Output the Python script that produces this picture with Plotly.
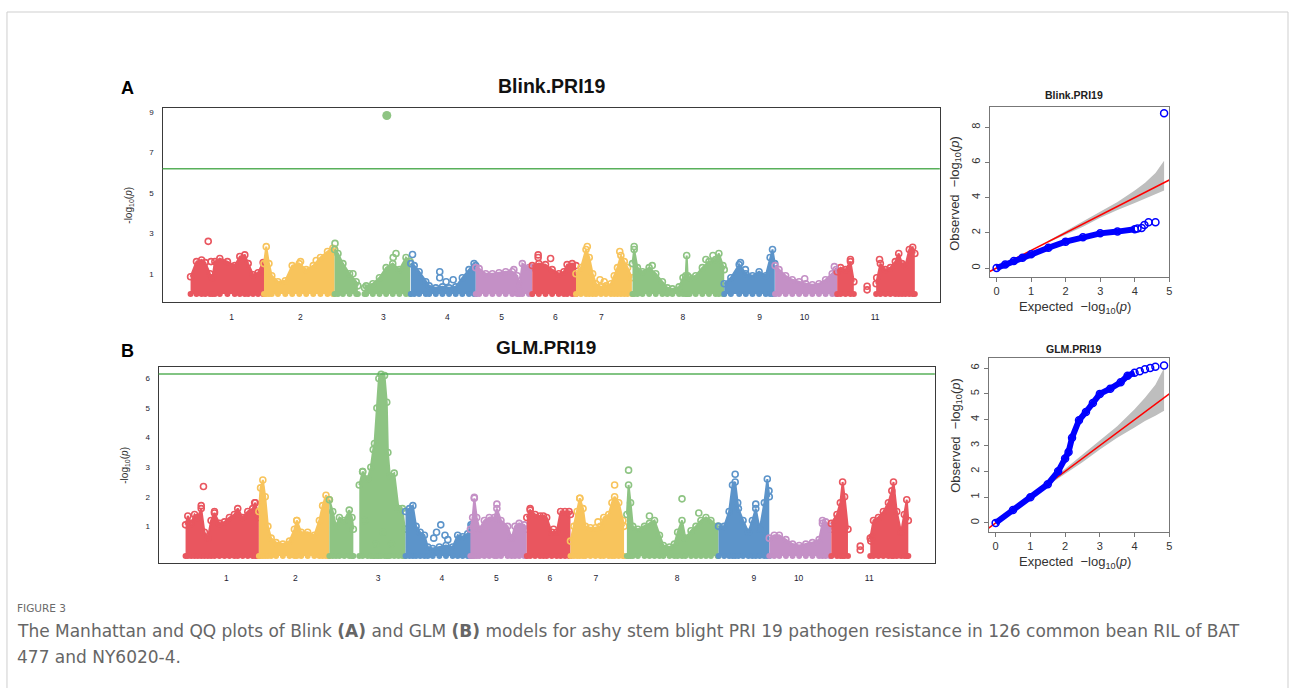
import numpy as np
import plotly.graph_objects as go

W, H = 1292, 688

# ---------------------------------------------------------------- data
CHR_LABELS = ["1", "2", "3", "4", "5", "6", "7", "8", "9", "10", "11"]
CHR_LEN_MB = [52, 50, 54, 46, 40, 31, 40, 65, 36, 44, 55]
# where each chromosome label sits, Mb from the chromosome start
CHR_TICK_MB = [29, 25.8, 34.6, 25.8, 18.4, 16.3, 18, 35.7, 25.1, 20.8, 26.9]
CHR_COLORS = ["#E9565F", "#F8C45C", "#8EC483", "#5C94CA", "#C490C6"]

BONFERRONI_BLINK = 6.19
BONFERRONI_GLM = 6.15

# Upper edge of the SNP cloud per chromosome (position in Mb, -log10 p); None = no markers
BLINK_ENV_MB = [
    [0, 4.2, 7.8, 10.4, 13.7, 15.5, 17.2, 20.7, 26.1, 31.3, 34.9, 38.4, 40.8, 44.3, 47.8, 51.4, 52],
    [0, 1.6, 3.5, 5.5, 9.9, 15.1, 20.0, 25.0, 29.9, 34.9, 40.0, 45.0, 48.8, 50],
    [0, 2.4, 5.9, 10.6, 15.3, 16.5, 18.5, 21.2, 22.4, 27.1, 31.8, 36.5, 41.2, 45.9, 50.6, 53.5],
    [0, 2.4, 5.9, 10.6, 13.0, 17.7, 22.4, 27.1, 31.8, 36.5, 41.2, 44.8, 46],
    [0, 2.4, 7.1, 11.8, 16.5, 21.2, 25.9, 29.4, 31.1, 33.0, 37.7, 40],
    [0, 4.7, 9.4, 14.1, 18.8, 22.4, 24.7, 28.3, 31],
    [0, 3.5, 7.1, 9.4, 11.8, 14.1, 17.7, 21.2, 24.7, 27.1, 29.4, 31.8, 34.2, 36.5, 39.6],
    [0, 1.2, 3.5, 7.1, 11.8, 16.5, 21.2, 24.7, 28.3, 33.0, 35.8, 37.7, 38.4, 39.1, 40.5, 44.8, 49.5, 54.2, 58.9, 61.2, 64.1, 65],
    [0, 4.7, 10.6, 15.3, 20.0, 24.7, 29.4, 32.5, 34.2, 35.8],
    [0, 2.8, 7.5, 12.2, 17.0, 21.7, 26.4, 31.1, 35.8, 40.5, 43.3, 44],
    [0, 2.4, 5.9, 9.4, 11.8, 13.0, 27.6, 30.6, 34.2, 37.7, 41.2, 43.6, 45.9, 48.3, 51.1, 53.5, 55],
]
BLINK_ENV_LOGP = [
    [0.85, 1.6, 1.68, 1.55, 1.0, 0.8, 1.6, 1.75, 1.6, 1.4, 1.85, 1.93, 1.5, 0.95, 1.05, 1.55, 1.5],
    [1.5, 2.34, 1.5, 0.9, 0.6, 0.65, 1.4, 1.5, 1.2, 1.4, 1.8, 2.1, 2.26, 2.2],
    [2.2, 2.0, 1.5, 1.0, 0.6, 0.4, None, 0.3, 0.4, 0.5, 0.8, 1.3, 1.5, 1.2, 1.8, 1.6],
    [1.5, 1.4, 1.1, 0.6, 0.4, 0.3, 0.35, 0.3, 0.35, 0.8, 1.2, 1.5, 1.4],
    [1.3, 1.25, 1.0, 1.0, 1.05, 1.1, 1.1, 0.9, 0.4, 1.5, 1.3, 1.3],
    [1.4, 1.5, 1.45, 1.2, 1.0, 1.1, 1.45, 1.5, 1.4],
    [1.0, 1.3, 2.2, 1.8, 1.0, 0.5, 0.35, 0.4, 0.5, 0.9, 1.3, 1.9, 1.6, 1.3, 0.8],
    [1.5, 2.2, 1.3, 1.1, 1.3, 1.0, 0.6, 0.3, 0.25, 0.35, 0.8, 0.9, 1.9, 0.9, 0.8, 0.9, 1.3, 1.6, 1.7, 2.0, 1.4, 1.2],
    [0.5, 0.8, 1.45, 1.0, 0.9, 1.1, 0.9, 1.8, 2.2, 1.5],
    [1.4, 1.2, 0.9, 0.7, 0.6, 0.5, 0.45, 0.5, 0.7, 1.0, 1.2, 1.1],
    [1.1, 1.3, 1.2, 1.6, 0.6, None, 0.5, 1.5, 1.2, 1.3, 1.6, 2.0, 1.5, 1.4, 2.2, 2.31, 2.0],
]
# Isolated SNPs standing out from the cloud
BLINK_HIT_CHR = [1, 1, 2, 2, 3, 3, 3, 3, 4, 4, 4, 4, 4, 5, 6, 6, 6, 7, 7, 7, 7, 8, 8, 8, 8, 9, 9, 10, 10, 11, 11, 11, 11, 11]
BLINK_HIT_MB = [12.5, 14.5, 25.9, 37.0, 0.3, 13.0, 41.5, 43.5, 1.2, 20.5, 20.5, 25.0, 30.0, 27.0, 4.2, 4.2, 13.0,
                8.0, 17.0, 20.0, 31.0, 1.2, 14.0, 52.0, 57.0, 11.5, 15.0, 21.0, 42.0, 9.4, 21.2, 21.2, 30.0, 28.0]
BLINK_HIT_LOGP = [2.6, 1.6, 1.6, 1.65, 2.5, 1.0, 1.8, 2.0, 1.95, 1.1, 0.8, 0.6, 0.7, 1.2, 1.93, 1.8, 1.75,
                  2.35, 0.7, 0.6, 2.1, 2.35, 1.4, 1.7, 1.9, 1.55, 1.2, 0.75, 1.35, 1.7, 0.2, 0.38, 1.7, 0.8]
# Significant marker
BLINK_LEAD_CHR = 3
BLINK_LEAD_MB = 37.0
BLINK_LEAD_LOGP = 8.83

GLM_ENV_MB = [
    [0, 1.6, 4.0, 6.4, 8.7, 11.1, 13.4, 15.8, 18.1, 20.5, 24.0, 27.6, 31.1, 34.6, 37.0, 40.5, 44.1, 47.6, 49.5, 51.4, 52],
    [0, 1.2, 2.8, 4.5, 6.4, 8.7, 12.2, 17.0, 21.7, 25.2, 26.9, 30.0, 34.6, 39.3, 42.9, 45.2, 47.6, 49.5, 50],
    [0, 2.4, 4.7, 7.1, 10.6, 14.1, 16.0, 17.0, 19.0, 21.2, 23.6, 27.1, 29.4, 31.1, 32.0, 33.7, 35.1, 36.7, 39.1, 40.7,
     41.5, 42.9, 46.0, 49.0, 51.8, 53.5, 54],
    [0, 2.8, 5.2, 7.5, 10.4, 13.4, 15.8, 19.3, 24.0, 28.7, 33.4, 37.0, 40.5, 44.1, 46.4, 47],
    [0, 1.6, 2.8, 4.5, 6.4, 9.9, 13.4, 17.0, 18.8, 21.7, 26.4, 29.2, 31.6, 34.6, 38.2, 40],
    [0, 2.4, 5.9, 9.4, 11.8, 14.1, 17.7, 21.2, 24.0, 27.1, 30.0, 31],
    [0, 2.4, 4.7, 6.6, 8.9, 10.6, 14.1, 17.7, 21.2, 23.6, 27.1, 29.4, 31.3, 34.2, 37.2, 38],
    [0, 1.2, 2.6, 4.2, 7.8, 12.5, 16.0, 19.6, 23.1, 25.9, 30.2, 33.7, 36.0, 39.1, 41.5, 45.5, 49.0, 52.5, 56.1, 59.6, 64.3, 65],
    [0, 4.0, 7.5, 9.9, 11.8, 14.1, 17.4, 21.2, 24.0, 26.4, 29.2, 32.5, 34.6, 35.8, 36],
    [0, 3.5, 7.1, 11.8, 16.5, 21.2, 25.9, 30.6, 35.3, 37.7, 40.0, 42.9, 44],
    [0, 4.0, 6.4, 8.0, 9.4, 11.8, 13.0, 27.6, 29.9, 33.4, 36.9, 40.5, 42.9, 44.1, 46.4, 49.5, 51.8, 53.5, 54.6],
]
GLM_ENV_LOGP = [
    [1.05, 1.35, 1.1, 1.4, 1.3, 1.6, 0.8, 0.6, 1.2, 1.45, 1.1, 1.15, 1.3, 1.4, 1.6, 1.3, 1.5, 1.6, 1.8, 1.4, 1.3],
    [1.5, 2.3, 2.57, 2.0, 1.0, 0.6, 0.45, 0.4, 0.5, 0.9, 1.2, 0.8, 0.8, 0.7, 1.2, 1.7, 2.05, 1.9, 1.9],
    [1.9, 1.5, 1.0, 1.3, 1.2, 1.55, 1.3, 0.9, None, 2.4, 2.85, 2.6, 3.0, 3.6, 3.8, 5.0, 6.0, 6.14, 6.1, 5.2,
     3.5, 2.7, 2.8, 1.6, 1.6, 0.9, 0.9],
    [1.5, 1.6, 1.7, 1.0, 0.8, 0.7, 0.3, 0.25, 0.3, 0.35, 0.3, 0.7, 0.65, 0.75, 1.05, 1.0],
    [0.9, 1.3, 1.95, 1.3, 0.9, 1.2, 1.3, 1.3, 1.6, 1.2, 1.0, 0.6, 1.0, 1.1, 1.05, 0.9],
    [1.3, 1.55, 1.4, 1.35, 1.35, 1.3, 0.8, 0.8, 1.5, 1.5, 1.5, 1.4],
    [0.5, 1.0, 1.5, 1.95, 1.6, 1.0, 0.95, 0.95, 1.0, 1.3, 1.4, 1.8, 2.0, 1.8, 1.2, 1.0],
    [1.4, 2.4, 1.8, 1.0, 0.9, 1.0, 1.1, 1.2, 0.7, 0.35, 0.3, 0.4, 0.8, 1.2, 0.6, 0.85, 1.0, 1.2, 1.3, 1.2, 1.0, 1.0],
    [1.0, 1.0, 1.5, 2.4, 2.5, 1.6, 1.2, 0.8, 1.2, 1.6, 0.9, 1.8, 2.6, 2.2, 2.0],
    [0.6, 0.7, 0.7, 0.55, 0.4, 0.35, 0.4, 0.45, 0.55, 1.1, 1.15, 1.0, 0.9],
    [1.1, 1.4, 1.8, 2.5, 2.0, 0.9, None, 0.6, 1.2, 1.3, 1.5, 1.8, 2.2, 2.5, 1.5, 0.8, 1.4, 1.9, 1.2],
]
GLM_HIT_CHR = [1, 1, 1, 1, 2, 3, 3, 3, 3, 3, 4, 4, 4, 4, 4, 5, 5, 6, 6, 7, 7, 7, 8, 8, 8, 8, 9, 9, 9, 10, 11, 11, 11, 11]
GLM_HIT_MB = [12.7, 11.1, 20.5, 49.0, 26.9, 23.6, 25.0, 33.0, 44.0, 38.0, 25.0, 22.0, 20.0, 30.0, 28.0, 2.8, 18.8,
              2.4, 19.0, 6.6, 31.3, 19.5, 1.2, 16.0, 39.1, 51.0, 11.8, 26.4, 13.6, 37.7, 20.5, 20.5, 28.0, 29.0]
GLM_HIT_LOGP = [2.35, 1.7, 1.5, 1.8, 1.2, 2.85, 1.2, 0.4, 0.4, 0.8, 1.05, 0.8, 0.6, 0.55, 0.7, 1.98, 1.75,
                1.6, 0.9, 1.95, 2.4, 1.15, 2.9, 1.35, 1.93, 1.45, 2.76, 1.75, 1.8, 1.2, 0.2, 0.33, 0.5, 0.65]

# QQ plots: expected vs observed -log10(p)
QQ_BLINK_EXP = [0, 0.25, 0.5, 0.75, 1.0, 1.5, 2.0, 2.5, 3.0, 3.5, 4.0]
QQ_BLINK_OBS = [0, 0.2, 0.4, 0.58, 0.78, 1.15, 1.5, 1.75, 1.97, 2.07, 2.2]
QQ_BLINK_TAIL_EXP = [4.08, 4.2, 4.28, 4.4, 4.6, 4.85]
QQ_BLINK_TAIL_OBS = [2.25, 2.28, 2.45, 2.6, 2.6, 8.8]

QQ_GLM_EXP = [0, 0.5, 1.0, 1.5, 1.8, 2.0, 2.1, 2.2, 2.4, 2.6, 2.8, 3.0, 3.3, 3.6, 3.8, 4.0]
QQ_GLM_OBS = [0, 0.5, 1.0, 1.5, 2.0, 2.5, 2.75, 3.3, 3.98, 4.3, 4.65, 5.0, 5.2, 5.45, 5.7, 5.82]
QQ_GLM_TAIL_EXP = [4.15, 4.3, 4.45, 4.6, 4.85]
QQ_GLM_TAIL_OBS = [5.88, 5.95, 6.0, 6.05, 6.1]

# 95% confidence band around the expected line
QQ_BAND_EXP = [1.5, 2.0, 2.5, 3.0, 3.5, 4.0, 4.3, 4.6, 4.85]
QQ_BLINK_BAND_HI = [1.55, 2.1, 2.65, 3.2, 3.75, 4.4, 4.85, 5.4, 6.1]
QQ_BLINK_BAND_LO = [1.45, 1.9, 2.35, 2.85, 3.3, 3.7, 3.95, 4.2, 4.4]
QQ_GLM_BAND_HI = [1.55, 2.1, 2.65, 3.2, 3.75, 4.4, 4.85, 5.35, 6.0]
QQ_GLM_BAND_LO = [1.45, 1.9, 2.35, 2.85, 3.3, 3.7, 3.95, 4.15, 4.35]
QQ_RANGE = [-0.2, 5.0]

# ---------------------------------------------------------------- helpers
FONT = "Liberation Sans, Arial, sans-serif"
offsets = np.concatenate([[0], np.cumsum(CHR_LEN_MB)[:-1]])
tick_pos = offsets + np.array(CHR_TICK_MB)
genome_len = float(sum(CHR_LEN_MB))


def px(x):
    return x / W


def py(y):
    return 1 - y / H


fig = go.Figure()


def add_manhattan(env_mb, env_logp, hit_chr, hit_mb, hit_logp, xa, ya):
    for i, (mbs, lps) in enumerate(zip(env_mb, env_logp)):
        color = CHR_COLORS[i % len(CHR_COLORS)]
        segs, cur = [], ([], [])
        for m, v in zip(list(mbs) + [None], list(lps) + [None]):
            if v is None:
                if cur[0]:
                    segs.append(cur)
                cur = ([], [])
            else:
                cur[0].append(offsets[i] + m)
                cur[1].append(v)
        for sx, sy in segs:
            fig.add_trace(go.Scatter(
                x=sx, y=sy, mode="lines+markers", xaxis=xa, yaxis=ya,
                fill="tozeroy", fillcolor=color,
                line=dict(color=color, width=2),
                marker=dict(symbol="circle-open", size=6, color=color, line=dict(width=1.6)),
                hoverinfo="skip"))
        # baseline of the cloud
        fig.add_trace(go.Scatter(
            x=[offsets[i] + m for m, v in zip(mbs, lps) if v is not None],
            y=[0] * sum(v is not None for v in lps), mode="markers", xaxis=xa, yaxis=ya,
            marker=dict(symbol="circle", size=6, color=color), hoverinfo="skip"))
    fig.add_trace(go.Scatter(
        x=[offsets[c - 1] + m for c, m in zip(hit_chr, hit_mb)], y=hit_logp,
        mode="markers", xaxis=xa, yaxis=ya,
        marker=dict(symbol="circle-open", size=6,
                    color=[CHR_COLORS[(c - 1) % len(CHR_COLORS)] for c in hit_chr],
                    line=dict(width=1.6)),
        hoverinfo="skip"))


def add_qq(exp, obs, tail_exp, tail_obs, band_hi, band_lo, xa, ya):
    fig.add_trace(go.Scatter(x=QQ_BAND_EXP, y=band_lo, mode="lines", line=dict(width=0, color="#BEBEBE"),
                             xaxis=xa, yaxis=ya, hoverinfo="skip"))
    fig.add_trace(go.Scatter(x=QQ_BAND_EXP, y=band_hi, mode="lines", line=dict(width=0, color="#BEBEBE"),
                             fill="tonexty", fillcolor="#BEBEBE", xaxis=xa, yaxis=ya, hoverinfo="skip"))
    fig.add_trace(go.Scatter(x=QQ_RANGE, y=QQ_RANGE, mode="lines", line=dict(color="#FF0000", width=1.5),
                             xaxis=xa, yaxis=ya, hoverinfo="skip"))
    fig.add_trace(go.Scatter(x=exp, y=obs, mode="lines+markers", xaxis=xa, yaxis=ya,
                             line=dict(color="#0000FF", width=6),
                             marker=dict(symbol="circle-open", size=7, color="#0000FF", line=dict(width=1.5)),
                             hoverinfo="skip"))
    fig.add_trace(go.Scatter(x=tail_exp, y=tail_obs, mode="markers", xaxis=xa, yaxis=ya,
                             marker=dict(symbol="circle-open", size=7, color="#0000FF", line=dict(width=1.5)),
                             hoverinfo="skip"))


# Panel A: Blink
add_manhattan(BLINK_ENV_MB, BLINK_ENV_LOGP, BLINK_HIT_CHR, BLINK_HIT_MB, BLINK_HIT_LOGP, "x", "y")
fig.add_trace(go.Scatter(x=[offsets[BLINK_LEAD_CHR - 1] + BLINK_LEAD_MB], y=[BLINK_LEAD_LOGP], mode="markers",
                         marker=dict(symbol="circle", size=9,
                                     color=CHR_COLORS[(BLINK_LEAD_CHR - 1) % len(CHR_COLORS)]),
                         xaxis="x", yaxis="y", hoverinfo="skip"))
add_qq(QQ_BLINK_EXP, QQ_BLINK_OBS, QQ_BLINK_TAIL_EXP, QQ_BLINK_TAIL_OBS,
       QQ_BLINK_BAND_HI, QQ_BLINK_BAND_LO, "x2", "y2")

# Panel B: GLM
add_manhattan(GLM_ENV_MB, GLM_ENV_LOGP, GLM_HIT_CHR, GLM_HIT_MB, GLM_HIT_LOGP, "x3", "y3")
add_qq(QQ_GLM_EXP, QQ_GLM_OBS, QQ_GLM_TAIL_EXP, QQ_GLM_TAIL_OBS,
       QQ_GLM_BAND_HI, QQ_GLM_BAND_LO, "x4", "y4")

# ---------------------------------------------------------------- axes
man_x = dict(tickvals=list(tick_pos), ticktext=CHR_LABELS, showgrid=False, zeroline=False,
             showline=True, mirror=True, linecolor="#3a3a3a", linewidth=1.4, ticks="",
             ticklabelstandoff=7, tickfont=dict(size=8.5, color="#1d1d33", family=FONT))
man_y = dict(showgrid=False, zeroline=False, showline=True, mirror=True, linecolor="#3a3a3a",
             linewidth=1.4, ticks="", ticklabelstandoff=6,
             tickfont=dict(size=8, color="#1d1d33", family=FONT))
qq_x = dict(range=QQ_RANGE, tickvals=[0, 1, 2, 3, 4, 5], showgrid=False, zeroline=False, showline=True,
            mirror=True, linecolor="#777777", linewidth=1, ticks="outside", ticklen=4, tickcolor="#777777",
            tickfont=dict(size=11, color="#333333", family=FONT))
qq_y = dict(showgrid=False, zeroline=False, showline=True, mirror=True, linecolor="#777777", linewidth=1,
            ticks="outside", ticklen=4, tickcolor="#777777", tickangle=-90,
            tickfont=dict(size=11, color="#333333", family=FONT))

fig.update_layout(
    xaxis=dict(man_x, domain=[px(163), px(942)], range=[-19.8, genome_len + 17.7], anchor="y"),
    yaxis=dict(man_y, domain=[py(302), py(108)], range=[-0.4, 9.2], tickvals=[1, 3, 5, 7, 9], anchor="x"),
    xaxis2=dict(qq_x, domain=[px(992), px(1172)], anchor="y2"),
    yaxis2=dict(qq_y, domain=[py(277), py(107)], range=[-0.51, 9.15], tickvals=[0, 2, 4, 6, 8], anchor="x2"),
    xaxis3=dict(man_x, domain=[px(159), px(937)], range=[-19.1, genome_len + 18.4], anchor="y3"),
    yaxis3=dict(man_y, domain=[py(563), py(367)], range=[-0.24, 6.39], tickvals=[1, 2, 3, 4, 5, 6], anchor="x3"),
    xaxis4=dict(qq_x, domain=[px(991), px(1172)], anchor="y4"),
    yaxis4=dict(qq_y, domain=[py(532), py(358)], range=[-0.35, 6.39], tickvals=[0, 1, 2, 3, 4, 5, 6], anchor="x4"),
)

# significance thresholds
shapes = [
    dict(type="line", xref="x domain", yref="y", x0=0, x1=1, y0=BONFERRONI_BLINK, y1=BONFERRONI_BLINK,
         line=dict(color="#58B05A", width=1.5)),
    dict(type="line", xref="x3 domain", yref="y3", x0=0, x1=1, y0=BONFERRONI_GLM, y1=BONFERRONI_GLM,
         line=dict(color="#58B05A", width=1.5)),
    # card outline
    dict(type="rect", xref="paper", yref="paper", x0=px(7), x1=px(1291), y0=-0.05, y1=py(12),
         line=dict(color="#CFCFCF", width=1), layer="below"),
]

# ---------------------------------------------------------------- text
ann = []


def text(x, y, s, size, color="#000000", bold=False, angle=0, xanchor="center", family=FONT):
    ann.append(dict(x=px(x), y=py(y), xref="paper", yref="paper", text=f"<b>{s}</b>" if bold else s,
                    showarrow=False, textangle=angle, xanchor=xanchor, yanchor="middle",
                    font=dict(size=size, color=color, family=family)))


text(128, 88, "A", 18, bold=True)
text(128, 351, "B", 18, bold=True)
text(553, 86, "Blink.PRI19", 19.5, color="#111111", bold=True)
text(547, 347, "GLM.PRI19", 19, color="#111111", bold=True)
text(129, 205, "-log<sub>10</sub>(<i>p</i>)", 10, color="#333333", angle=-90)
text(125, 465, "-log<sub>10</sub>(<i>p</i>)", 10, color="#333333", angle=-90)

text(1077, 95, "Blink.PRI19", 10.5, color="#222222", bold=True)
text(1077, 349, "GLM.PRI19", 10.5, color="#222222", bold=True)
text(958, 193, "Observed  \u2212log<sub>10</sub>(<i>p</i>)", 13, color="#333333", angle=-90)
text(958, 435, "Observed  \u2212log<sub>10</sub>(<i>p</i>)", 13, color="#333333", angle=-90)
text(1078, 307, "Expected  \u2212log<sub>10</sub>(<i>p</i>)", 13, color="#333333")
text(1078, 562, "Expected  \u2212log<sub>10</sub>(<i>p</i>)", 13, color="#333333")

CAP = "DejaVu Sans, Open Sans, sans-serif"
text(15, 608, "FIGURE 3", 10.5, color="#6a6a6a", xanchor="left", family=CAP)
text(15, 631, "The Manhattan and QQ plots of Blink <b>(A)</b> and GLM <b>(B)</b> models for ashy stem blight "
              "PRI 19 pathogen resistance in 126 common bean RIL of BAT", 17, color="#666666",
     xanchor="left", family=CAP)
text(15, 657, "477 and NY6020-4.", 17, color="#666666", xanchor="left", family=CAP)

fig.update_layout(
    width=W, height=H, margin=dict(l=0, r=0, t=0, b=0),
    paper_bgcolor="white", plot_bgcolor="white", showlegend=False,
    shapes=shapes, annotations=ann,
)

fig.write_html("out.html")
